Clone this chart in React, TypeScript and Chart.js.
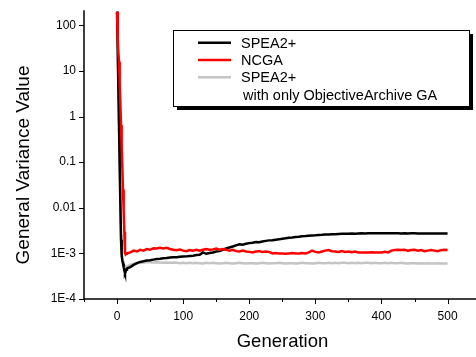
import React, { useEffect, useRef } from "react";
import { Chart, registerables } from "chart.js";

Chart.register(...registerables);

const FONT = "'Liberation Sans', Arial, sans-serif";

const generations = [
  0, 1, 2, 3, 4, 5, 6, 7, 8, 9, 10, 11, 12, 13, 14, 15,
  20, 25, 30, 35, 40, 45, 50, 55, 60, 65,
  70, 75, 80, 85, 90, 95, 100, 105, 110, 115,
  120, 125, 130, 135, 140, 145, 150, 155, 160, 165,
  170, 175, 180, 185, 190, 195, 200, 205, 210, 215,
  220, 225, 230, 235, 240, 245, 250, 255, 260, 265,
  270, 275, 280, 285, 290, 295, 300, 305, 310, 315,
  320, 325, 330, 335, 340, 345, 350, 355, 360, 365,
  370, 375, 380, 385, 390, 395, 400, 405, 410, 415,
  420, 425, 430, 435, 440, 445, 450, 455, 460, 465,
  470, 475, 480, 485, 490, 495, 500,
];

const spea2 = [
  200, 30, 4, 0.6, 0.08, 0.012, 0.002, 0.0009, 0.0007, 0.0006, 0.0005, 0.00042, 0.00037, 0.0004, 0.00044, 0.00047,
  5.0e-4, 5.6e-4, 6.1e-4, 6.5e-4, 6.7e-4, 7.0e-4, 7.1e-4, 7.3e-4, 7.5e-4, 7.6e-4,
  7.8e-4, 7.9e-4, 8.1e-4, 8.2e-4, 8.2e-4, 8.4e-4, 8.5e-4, 8.6e-4, 8.8e-4, 8.9e-4,
  9.2e-4, 9.3e-4, 1.05e-3, 9.8e-4, 1.02e-3, 1.05e-3, 1.1e-3, 1.12e-3, 1.2e-3, 1.28e-3,
  1.35e-3, 1.42e-3, 1.5e-3, 1.58e-3, 1.55e-3, 1.62e-3, 1.68e-3, 1.72e-3, 1.78e-3, 1.76e-3,
  1.83e-3, 1.88e-3, 1.93e-3, 1.95e-3, 2.0e-3, 2.03e-3, 2.1e-3, 2.14e-3, 2.2e-3, 2.22e-3,
  2.28e-3, 2.32e-3, 2.38e-3, 2.4e-3, 2.45e-3, 2.48e-3, 2.5e-3, 2.53e-3, 2.55e-3, 2.58e-3,
  2.6e-3, 2.62e-3, 2.63e-3, 2.66e-3, 2.68e-3, 2.7e-3, 2.7e-3, 2.72e-3, 2.7e-3, 2.73e-3,
  2.75e-3, 2.74e-3, 2.77e-3, 2.78e-3, 2.76e-3, 2.75e-3, 2.77e-3, 2.78e-3, 2.76e-3, 2.78e-3,
  2.75e-3, 2.76e-3, 2.74e-3, 2.75e-3, 2.73e-3, 2.75e-3, 2.76e-3, 2.74e-3, 2.72e-3, 2.74e-3,
  2.73e-3, 2.72e-3, 2.74e-3, 2.73e-3, 2.72e-3, 2.74e-3, 2.73e-3,
];

const ncga = [
  200, 50, 25, 16, 5.5, 1.9, 0.65, 0.22, 0.075, 0.025, 0.0087, 0.003, 0.00105, 0.00095, 0.00098, 0.001,
  1.05e-3, 1.15e-3, 1.1e-3, 1.2e-3, 1.15e-3, 1.25e-3, 1.2e-3, 1.3e-3, 1.28e-3, 1.33e-3,
  1.28e-3, 1.32e-3, 1.25e-3, 1.2e-3, 1.18e-3, 1.22e-3, 1.15e-3, 1.12e-3, 1.18e-3, 1.15e-3,
  1.2e-3, 1.14e-3, 1.2e-3, 1.25e-3, 1.2e-3, 1.22e-3, 1.28e-3, 1.2e-3, 1.25e-3, 1.2e-3,
  1.15e-3, 1.2e-3, 1.12e-3, 1.1e-3, 1.15e-3, 1.1e-3, 1.08e-3, 1.05e-3, 1.1e-3, 1.12e-3,
  1.08e-3, 1.1e-3, 1.08e-3, 1.0e-3, 1.02e-3, 1.0e-3, 1.0e-3, 0.98e-3, 1.0e-3, 1.02e-3,
  1.0e-3, 1.0e-3, 1.02e-3, 1.0e-3, 1.05e-3, 1.15e-3, 1.08e-3, 1.05e-3, 1.1e-3, 1.15e-3,
  1.18e-3, 1.12e-3, 1.1e-3, 1.08e-3, 1.12e-3, 1.08e-3, 1.1e-3, 1.06e-3, 1.1e-3, 1.05e-3,
  1.04e-3, 1.05e-3, 1.04e-3, 1.06e-3, 1.05e-3, 1.04e-3, 1.05e-3, 1.08e-3, 1.05e-3, 1.15e-3,
  1.18e-3, 1.2e-3, 1.18e-3, 1.2e-3, 1.15e-3, 1.18e-3, 1.2e-3, 1.15e-3, 1.18e-3, 1.12e-3,
  1.15e-3, 1.18e-3, 1.15e-3, 1.12e-3, 1.18e-3, 1.2e-3, 1.18e-3,
];

const spea2ObjArchive = [
  200, 35, 5, 0.7, 0.1, 0.015, 0.0025, 0.0011, 0.0008, 0.00068, 0.0006, 0.00055, 0.0005, 0.00049, 0.0005, 0.00052,
  5.6e-4, 5.9e-4, 6.0e-4, 6.2e-4, 6.3e-4, 6.4e-4, 6.4e-4, 6.3e-4, 6.4e-4, 6.3e-4,
  6.2e-4, 6.3e-4, 6.2e-4, 6.3e-4, 6.2e-4, 6.1e-4, 6.2e-4, 6.1e-4, 6.2e-4, 6.1e-4,
  6.2e-4, 6.1e-4, 6.0e-4, 6.2e-4, 6.1e-4, 6.2e-4, 6.1e-4, 6.0e-4, 6.1e-4, 6.2e-4,
  6.1e-4, 6.0e-4, 6.1e-4, 6.2e-4, 6.1e-4, 6.0e-4, 6.1e-4, 6.1e-4, 6.0e-4, 6.1e-4,
  6.2e-4, 6.1e-4, 6.0e-4, 6.1e-4, 6.1e-4, 6.2e-4, 6.1e-4, 6.0e-4, 6.1e-4, 6.1e-4,
  6.0e-4, 6.1e-4, 6.2e-4, 6.1e-4, 6.1e-4, 6.0e-4, 6.1e-4, 6.2e-4, 6.1e-4, 6.1e-4,
  6.2e-4, 6.1e-4, 6.2e-4, 6.1e-4, 6.2e-4, 6.2e-4, 6.1e-4, 6.2e-4, 6.1e-4, 6.2e-4,
  6.1e-4, 6.2e-4, 6.2e-4, 6.1e-4, 6.2e-4, 6.1e-4, 6.1e-4, 6.2e-4, 6.1e-4, 6.2e-4,
  6.1e-4, 6.1e-4, 6.2e-4, 6.1e-4, 6.0e-4, 6.1e-4, 6.1e-4, 6.0e-4, 6.1e-4, 6.0e-4,
  6.1e-4, 6.0e-4, 6.0e-4, 6.1e-4, 6.0e-4, 6.0e-4, 6.0e-4,
];

const yTickValues = [1e-4, 1e-3, 1e-2, 1e-1, 1, 10, 100];
const yTickLabels = ["1E-4", "1E-3", "0.01", "0.1", "1", "10", "100"];
const xTickValues = [-50, 0, 50, 100, 150, 200, 250, 300, 350, 400, 450, 500];
const xLabelValues = [0, 100, 200, 300, 400, 500];

const seriesNames = ["SPEA2+", "NCGA", "SPEA2+"];
const seriesNote = "with only ObjectiveArchive GA";
const seriesColors = ["#000000", "#ff0000", "#c4c4c4"];
const xTitle = "Generation";
const yTitle = "General Variance Value";

const decorPlugin = {
  id: "decor",
  afterDraw(chart: any) {
    const ctx = chart.ctx;
    const xs = chart.scales.x;
    const ys = chart.scales.y;
    const area = chart.chartArea;
    ctx.save();
    ctx.strokeStyle = "#000";
    ctx.lineWidth = 1.5;
    // axis lines
    ctx.beginPath();
    ctx.moveTo(area.left, area.top);
    ctx.lineTo(area.left, area.bottom);
    ctx.lineTo(area.right, area.bottom);
    ctx.stroke();
    ctx.lineWidth = 1;
    // x tick marks
    for (const v of xTickValues) {
      const px = Math.round(xs.getPixelForValue(v)) + 0.5;
      const len = v % 100 === 0 ? 5 : 3;
      ctx.beginPath();
      ctx.moveTo(px, area.bottom);
      ctx.lineTo(px, area.bottom + len);
      ctx.stroke();
    }
    // y tick marks
    for (const v of yTickValues) {
      const py = Math.round(ys.getPixelForValue(v)) + 0.5;
      ctx.beginPath();
      ctx.moveTo(area.left - 5, py);
      ctx.lineTo(area.left, py);
      ctx.stroke();
    }
    // axis titles
    ctx.fillStyle = "#000";
    ctx.textAlign = "center";
    ctx.textBaseline = "middle";
    ctx.font = `18.5px ${FONT}`;
    ctx.fillText(xTitle, 282.5, 342);
    ctx.save();
    ctx.translate(24, 165);
    ctx.rotate(-Math.PI / 2);
    ctx.font = `19px ${FONT}`;
    ctx.fillText(yTitle, 0, 0);
    ctx.restore();

    // legend
    const bx = 173, by = 30, bw = 296, bh = 76;
    ctx.fillStyle = "#000";
    ctx.fillRect(bx + 4, by + 4, bw, bh);
    ctx.fillStyle = "#fff";
    ctx.fillRect(bx, by, bw, bh);
    ctx.strokeStyle = "#000";
    ctx.lineWidth = 1;
    ctx.strokeRect(bx + 0.5, by + 0.5, bw, bh);
    const rows = [42.7, 60, 77.3];
    ctx.font = `14.5px ${FONT}`;
    ctx.textAlign = "left";
    ctx.textBaseline = "middle";
    for (let i = 0; i < 3; i++) {
      ctx.strokeStyle = seriesColors[i];
      ctx.lineWidth = 2.5;
      ctx.beginPath();
      ctx.moveTo(198, rows[i]);
      ctx.lineTo(231, rows[i]);
      ctx.stroke();
      ctx.fillStyle = "#000";
      ctx.fillText(seriesNames[i], 241, rows[i] + 1);
    }
    ctx.fillText(seriesNote, 243, 96);
    ctx.restore();
  },
};

export default function App() {
  const canvasRef = useRef<HTMLCanvasElement | null>(null);

  useEffect(() => {
    if (!canvasRef.current) return;
    const mk = (vals: number[]) => generations.map((g, i) => ({ x: g, y: vals[i] }));
    const chart = new Chart(canvasRef.current, {
      type: "line",
      data: {
        datasets: [
          {
            label: seriesNames[0],
            data: mk(spea2),
            borderColor: seriesColors[0],
            borderWidth: 2.5,
            pointRadius: 0,
            tension: 0,
            order: 1,
          },
          {
            label: seriesNames[1],
            data: mk(ncga),
            borderColor: seriesColors[1],
            borderWidth: 2.5,
            pointRadius: 0,
            tension: 0,
            order: 0,
          },
          {
            label: seriesNames[2] + " " + seriesNote,
            data: mk(spea2ObjArchive),
            borderColor: seriesColors[2],
            borderWidth: 2.5,
            pointRadius: 0,
            tension: 0,
            order: 2,
          },
        ],
      },
      options: {
        animation: false,
        responsive: true,
        maintainAspectRatio: false,
        layout: { padding: { top: 7, right: 0, left: 0, bottom: 0 } },
        plugins: { legend: { display: false }, tooltip: { enabled: false } },
        scales: {
          x: {
            type: "linear",
            min: -50,
            max: 543,
            grid: { display: false, drawTicks: true, tickLength: 5 },
            border: { display: false },
            afterBuildTicks: (s: any) => {
              s.ticks = xTickValues.map((v) => ({ value: v }));
            },
            afterFit: (s: any) => {
              s.height = 58;
            },
            ticks: {
              autoSkip: false,
              maxRotation: 0,
              padding: 5,
              color: "#000",
              font: { family: FONT, size: 12 },
              callback: (v: any) => (xLabelValues.includes(Number(v)) ? String(v) : ""),
            },
          },
          y: {
            type: "logarithmic",
            min: 1e-4,
            max: 215,
            grid: { display: false, drawTicks: true, tickLength: 5 },
            border: { display: false },
            afterBuildTicks: (s: any) => {
              s.ticks = yTickValues.map((v) => ({ value: v }));
            },
            afterFit: (s: any) => {
              s.width = 84;
            },
            ticks: {
              autoSkip: false,
              padding: 3,
              color: "#000",
              font: { family: FONT, size: 12 },
              callback: (v: any) => {
                const idx = yTickValues.findIndex(
                  (t) => Math.abs(Math.log10(t) - Math.log10(Number(v))) < 1e-6
                );
                return idx >= 0 ? yTickLabels[idx] : "";
              },
            },
          },
        },
      },
      plugins: [decorPlugin],
    });
    return () => chart.destroy();
  }, []);

  return (
    <div style={{ position: "absolute", left: 0, top: 0, width: 476, height: 357, background: "#fff" }}>
      <canvas ref={canvasRef} />
    </div>
  );
}
